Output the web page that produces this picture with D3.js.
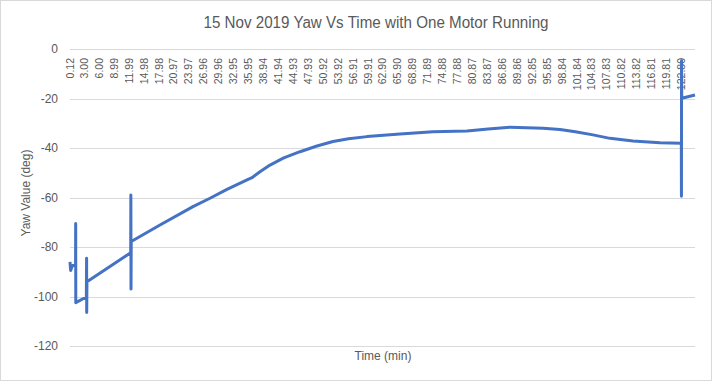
<!DOCTYPE html>
<html>
<head>
<meta charset="utf-8">
<script src="https://cdn.jsdelivr.net/npm/d3@7"></script>
<style>
  html, body { margin: 0; padding: 0; background: #fff; }
  svg { display: block; }
</style>
</head>
<body>
<svg id="chart" width="712" height="381"></svg>
<script>
// ---- data ----
const chartTitle = "15 Nov 2019 Yaw Vs Time with One Motor Running";
const xTitle = "Time (min)";
const yTitle = "Yaw Value (deg)";

const timeMin = [0.12, 0.25, 0.60, 1.24, 1.26, 1.28, 3.40, 3.45, 3.47, 3.52,
  12.30, 12.33, 12.36, 12.40, 18.17, 24.79, 28.20, 31.61, 35.63, 36.63,
  38.23, 40.24, 43.00, 46.26, 49.50, 52.88, 56.00, 59.70, 66.32, 72.94,
  79.76, 84.00, 88.39, 95.00, 98.41, 101.50, 105.04, 108.44, 113.06, 118.48,
  122.76, 122.78, 122.80, 122.84, 125.50];
const yawDeg = [-86, -89.5, -87.5, -87.5, -70.5, -102.5, -100.2, -84.5, -106.5, -94,
  -82.3, -59, -97, -77.8, -71.1, -63.7, -60.3, -56.7, -52.9, -52,
  -49.6, -46.9, -44, -41.5, -39.3, -37.4, -36.3, -35.4, -34.3, -33.4,
  -33.1, -32.3, -31.6, -32, -32.5, -33.4, -34.7, -36.1, -37.2, -37.9,
  -38.1, -59.5, -4.7, -19.9, -18.6];

const xTickLabels = ["0.12","3.00","6.00","8.99","11.99","14.98","17.98","20.97","23.97","26.96",
  "29.96","32.95","35.95","38.94","41.94","44.93","47.93","50.92","53.92","56.91",
  "59.91","62.90","65.90","68.89","71.89","74.88","77.88","80.87","83.87","86.86",
  "89.86","92.85","95.85","98.84","101.84","104.83","107.83","110.82","113.82","116.81",
  "119.81","122.80"];
const yTicks = [0, -20, -40, -60, -80, -100, -120];

// ---- layout ----
const svg = d3.select("#chart");
const W = 712, H = 381;
const pL = 70, pR = 695, pT = 49, pB = 346;
const textColor = "#595959";
const font = "'Liberation Sans', Arial, sans-serif";

svg.append("rect").attr("x", 0.5).attr("y", 0.5).attr("width", W - 1).attr("height", H - 1)
  .attr("fill", "#fff").attr("stroke", "#d9d9d9");

const x = d3.scaleLinear().domain([0.12, 125.5]).range([pL, pR]);
const y = d3.scaleLinear().domain([-120, 0]).range([pB, pT]);

// gridlines
svg.append("g").selectAll("line").data(yTicks).join("line")
  .attr("x1", pL).attr("x2", pR)
  .attr("y1", d => Math.round(y(d)) + 0.5).attr("y2", d => Math.round(y(d)) + 0.5)
  .attr("stroke", "#d9d9d9").attr("stroke-width", 1);

// y axis labels
const yAxis = d3.axisLeft(y).tickValues(yTicks).tickSize(0).tickPadding(0).tickFormat(d3.format("d"));
const gy = svg.append("g").attr("transform", `translate(${pL - 12},0)`).call(yAxis);
gy.select(".domain").remove();
gy.selectAll("text").attr("fill", textColor).style("font-family", font).style("font-size", "12px")
  .text(d => d < 0 ? "-" + Math.abs(d) : d);

// x axis labels (rotated, at top)
const gx = svg.append("g");
gx.selectAll("text").data(xTickLabels).join("text")
  .attr("transform", d => `translate(${x(+d) + 3.5},58) rotate(-90)`)
  .attr("text-anchor", "end")
  .attr("fill", textColor).style("font-family", font).style("font-size", "10.5px")
  .text(d => d);

// line
const line = d3.line().x((d, i) => x(timeMin[i])).y(d => y(d));
svg.append("path").datum(yawDeg)
  .attr("d", line)
  .attr("fill", "none").attr("stroke", "#4472C4").attr("stroke-width", 3)
  .attr("stroke-linejoin", "round").attr("stroke-linecap", "butt");

// titles
svg.append("text").attr("x", 376).attr("y", 28).attr("text-anchor", "middle")
  .attr("fill", textColor).style("font-family", font).style("font-size", "16px")
  .attr("textLength", 345).attr("lengthAdjust", "spacingAndGlyphs")
  .text(chartTitle);

svg.append("text").attr("x", 383).attr("y", 360).attr("text-anchor", "middle")
  .attr("fill", textColor).style("font-family", font).style("font-size", "12px")
  .text(xTitle);

svg.append("text").attr("transform", "translate(30,193) rotate(-90)").attr("text-anchor", "middle")
  .attr("fill", textColor).style("font-family", font).style("font-size", "12px")
  .text(yTitle);
</script>
</body>
</html>
